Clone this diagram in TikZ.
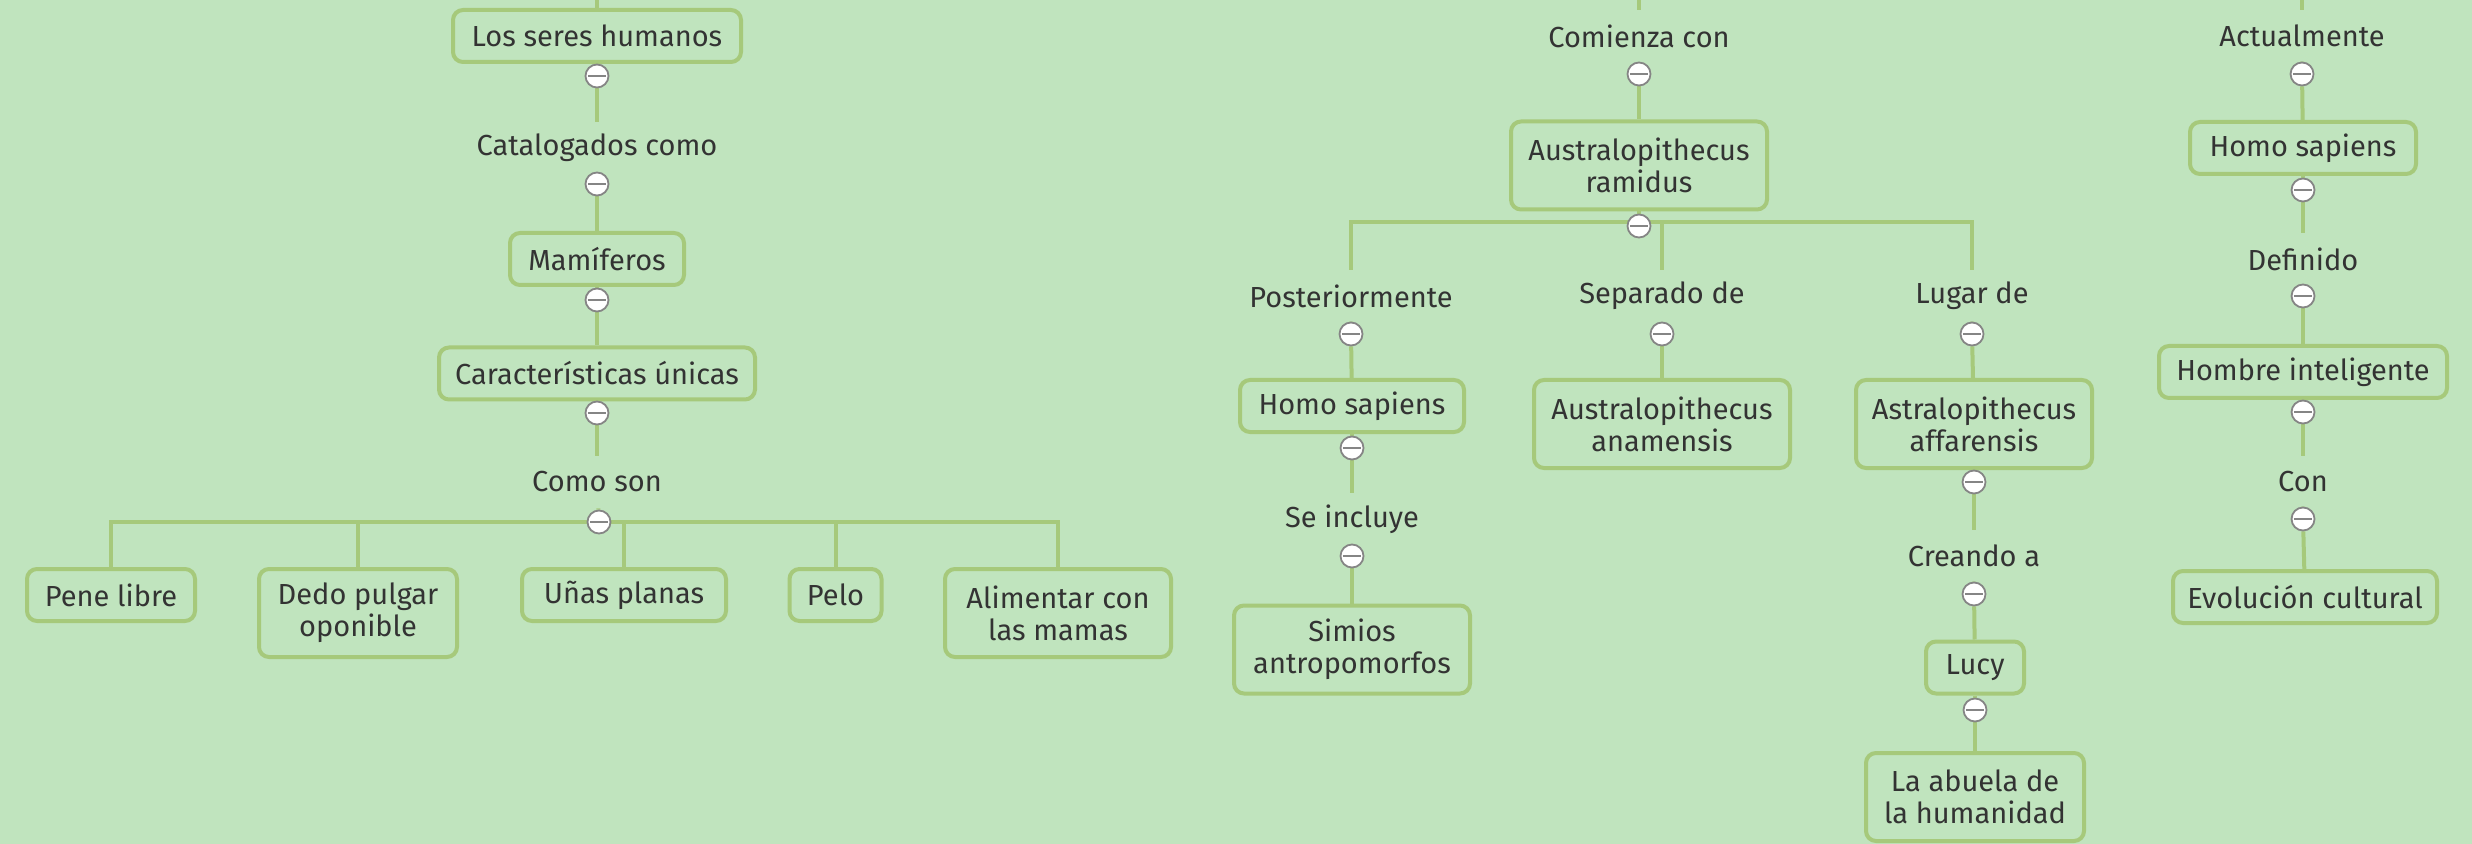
\documentclass[tikz,border=0pt]{standalone}
\usepackage{fontspec}
\setmainfont{Fira Sans}
\usetikzlibrary{positioning, backgrounds}

\definecolor{mapbg}{HTML}{C0E4BE}
\definecolor{mapline}{HTML}{A6C97B}
\definecolor{maptext}{HTML}{333333}
\definecolor{knobline}{HTML}{858585}

\begin{document}
\begin{tikzpicture}[
        x=0.5pt, y=-0.5pt,
        concept/.style={
          rectangle,
          draw=mapline,
          line width=2pt,
          rounded corners=5pt,
          align=center,
          text=maptext,
          font=\fontsize{14.5}{16}\selectfont,
          inner xsep=4pt,
          minimum height=26pt,
          minimum width=#1
        },
        concept/.default=10pt,
        tall/.style={minimum height=44pt},
        linkword/.style={
          align=center,
          text=maptext,
          font=\fontsize{14.5}{16}\selectfont,
          inner xsep=0pt,
          inner ysep=0pt,
          minimum height=26pt
        },
        knob/.style={
          circle,
          draw=knobline,
          line width=0.9pt,
          fill=white,
          inner sep=0pt,
          minimum size=11.5pt,
          path picture={
            \draw[knobline, line width=1.3pt]
              ([xshift=-4.6pt]path picture bounding box.center) --
              ([xshift=4.6pt]path picture bounding box.center);
          }
        },
        conn/.style={draw=mapline, line width=2pt}
    ]
    \useasboundingbox (0,0) rectangle (2472,844);

    % Left tree
    \node[concept=144pt] (humanos) at (597,36) {Los seres humanos};
    \node[knob] (kHumanos) at (597,76) {};
    \node[linkword] (catalogados) at (597,148) {Catalogados como};
    \node[knob] (kCatalogados) at (597,184) {};
    \node[concept=87pt] (mamiferos) at (597,259) {Mamíferos};
    \node[knob] (kMamiferos) at (597,300) {};
    \node[concept=158pt] (caracteristicas) at (597,373.5) {Características únicas};
    \node[knob] (kCaracteristicas) at (597,413) {};
    \node[linkword] (comoSon) at (597,482) {Como son};
    \node[knob] (kComoSon) at (599,522) {};
    \node[concept=84pt] (pene) at (111,595) {Pene libre};
    \node[concept=99pt, tall] (dedo) at (358,613) {Dedo pulgar\\oponible};
    \node[concept=102pt] (unas) at (624,595) {Uñas planas};
    \node[concept=46pt] (pelo) at (835.5,595) {Pelo};
    \node[concept=113pt, tall] (alimentar) at (1058,613) {Alimentar con\\las mamas};

    % Middle tree
    \node[linkword] (comienza) at (1639,36) {Comienza con};
    \node[knob] (kComienza) at (1639,74) {};
    \node[concept=128pt, tall] (ramidus) at (1639,165.5) {Australopithecus\\ramidus};
    \node[knob] (kRamidus) at (1639,226) {};
    \node[linkword] (posterior) at (1351,296) {Posteriormente};
    \node[linkword] (separado) at (1662,296) {Separado de};
    \node[linkword] (lugar) at (1972,296) {Lugar de};
    \node[knob] (kPosterior) at (1351,334) {};
    \node[knob] (kSeparado) at (1662,334) {};
    \node[knob] (kLugar) at (1972,334) {};
    \node[concept=112pt] (homoA) at (1352,406) {Homo sapiens};
    \node[knob] (kHomoA) at (1352,448) {};
    \node[linkword] (incluye) at (1352,519) {Se incluye};
    \node[knob] (kIncluye) at (1352,556) {};
    \node[concept=118pt, tall] (simios) at (1352,649.5) {Simios\\antropomorfos};
    \node[concept=128pt, tall] (anamensis) at (1662,424) {Australopithecus\\anamensis};
    \node[concept=118pt, tall] (affarensis) at (1974,424) {Astralopithecus\\affarensis};
    \node[knob] (kAffarensis) at (1974,482) {};
    \node[linkword] (creando) at (1974,556) {Creando a};
    \node[knob] (kCreando) at (1974,594) {};
    \node[concept=49pt] (lucy) at (1975,667.5) {Lucy};
    \node[knob] (kLucy) at (1975,710) {};
    \node[concept=109pt, tall] (abuela) at (1975,797) {La abuela de\\la humanidad};

    % Right tree
    \node[linkword] (actual) at (2302,36) {Actualmente};
    \node[knob] (kActual) at (2302,74) {};
    \node[concept=113pt] (homoB) at (2303,148) {Homo sapiens};
    \node[knob] (kHomoB) at (2303,190) {};
    \node[linkword] (definido) at (2303,259) {Definido};
    \node[knob] (kDefinido) at (2303,296) {};
    \node[concept=144pt] (hombre) at (2303,372) {Hombre inteligente};
    \node[knob] (kHombre) at (2303,412) {};
    \node[linkword] (con) at (2303,482) {Con};
    \node[knob] (kCon) at (2303,519) {};
    \node[concept=132pt] (evolucion) at (2305,597) {Evolución cultural};

    % Free ends and bus lines
    \coordinate (topL) at (597,0);
    \coordinate (topM) at (1639,0);
    \coordinate (topR) at (2302,0);
    \coordinate (busM) at (1639,222);

    \begin{scope}[on background layer]
    \fill[mapbg] (0,0) rectangle (2472,844);

    % Connect the nodes
    \draw[conn] (topL) -- (humanos);
    \draw[conn] (humanos) -- (kHumanos) -- (catalogados);
    \draw[conn] (catalogados) -- (kCatalogados) -- (mamiferos);
    \draw[conn] (mamiferos) -- (kMamiferos) -- (caracteristicas);
    \draw[conn] (caracteristicas) -- (kCaracteristicas) -- (comoSon);
    \draw[conn] (comoSon) -- (kComoSon);
    \draw[conn] (pene.north) |- (kComoSon) -| (alimentar.north);
    \draw[conn] (dedo.north |- kComoSon) -- (dedo.north);
    \draw[conn] (unas.north |- kComoSon) -- (unas.north);
    \draw[conn] (pelo.north |- kComoSon) -- (pelo.north);

    \draw[conn] (topM) -- (comienza);
    \draw[conn] (comienza) -- (kComienza) -- (ramidus);
    \draw[conn] (ramidus) -- (kRamidus);
    \draw[conn] (posterior) |- (busM) -| (lugar);
    \draw[conn] (separado |- busM) -- (separado);
    \draw[conn] (posterior) -- (kPosterior) -- (homoA);
    \draw[conn] (homoA) -- (kHomoA) -- (incluye);
    \draw[conn] (incluye) -- (kIncluye) -- (simios);
    \draw[conn] (separado) -- (kSeparado) -- (anamensis);
    \draw[conn] (lugar) -- (kLugar) -- (affarensis);
    \draw[conn] (affarensis) -- (kAffarensis) -- (creando);
    \draw[conn] (creando) -- (kCreando) -- (lucy);
    \draw[conn] (lucy) -- (kLucy) -- (abuela);

    \draw[conn] (topR) -- (actual);
    \draw[conn] (actual) -- (kActual) -- (homoB);
    \draw[conn] (homoB) -- (kHomoB) -- (definido);
    \draw[conn] (definido) -- (kDefinido) -- (hombre);
    \draw[conn] (hombre) -- (kHombre) -- (con);
    \draw[conn] (con) -- (kCon) -- (evolucion);
    \end{scope}

\end{tikzpicture}
\end{document}
